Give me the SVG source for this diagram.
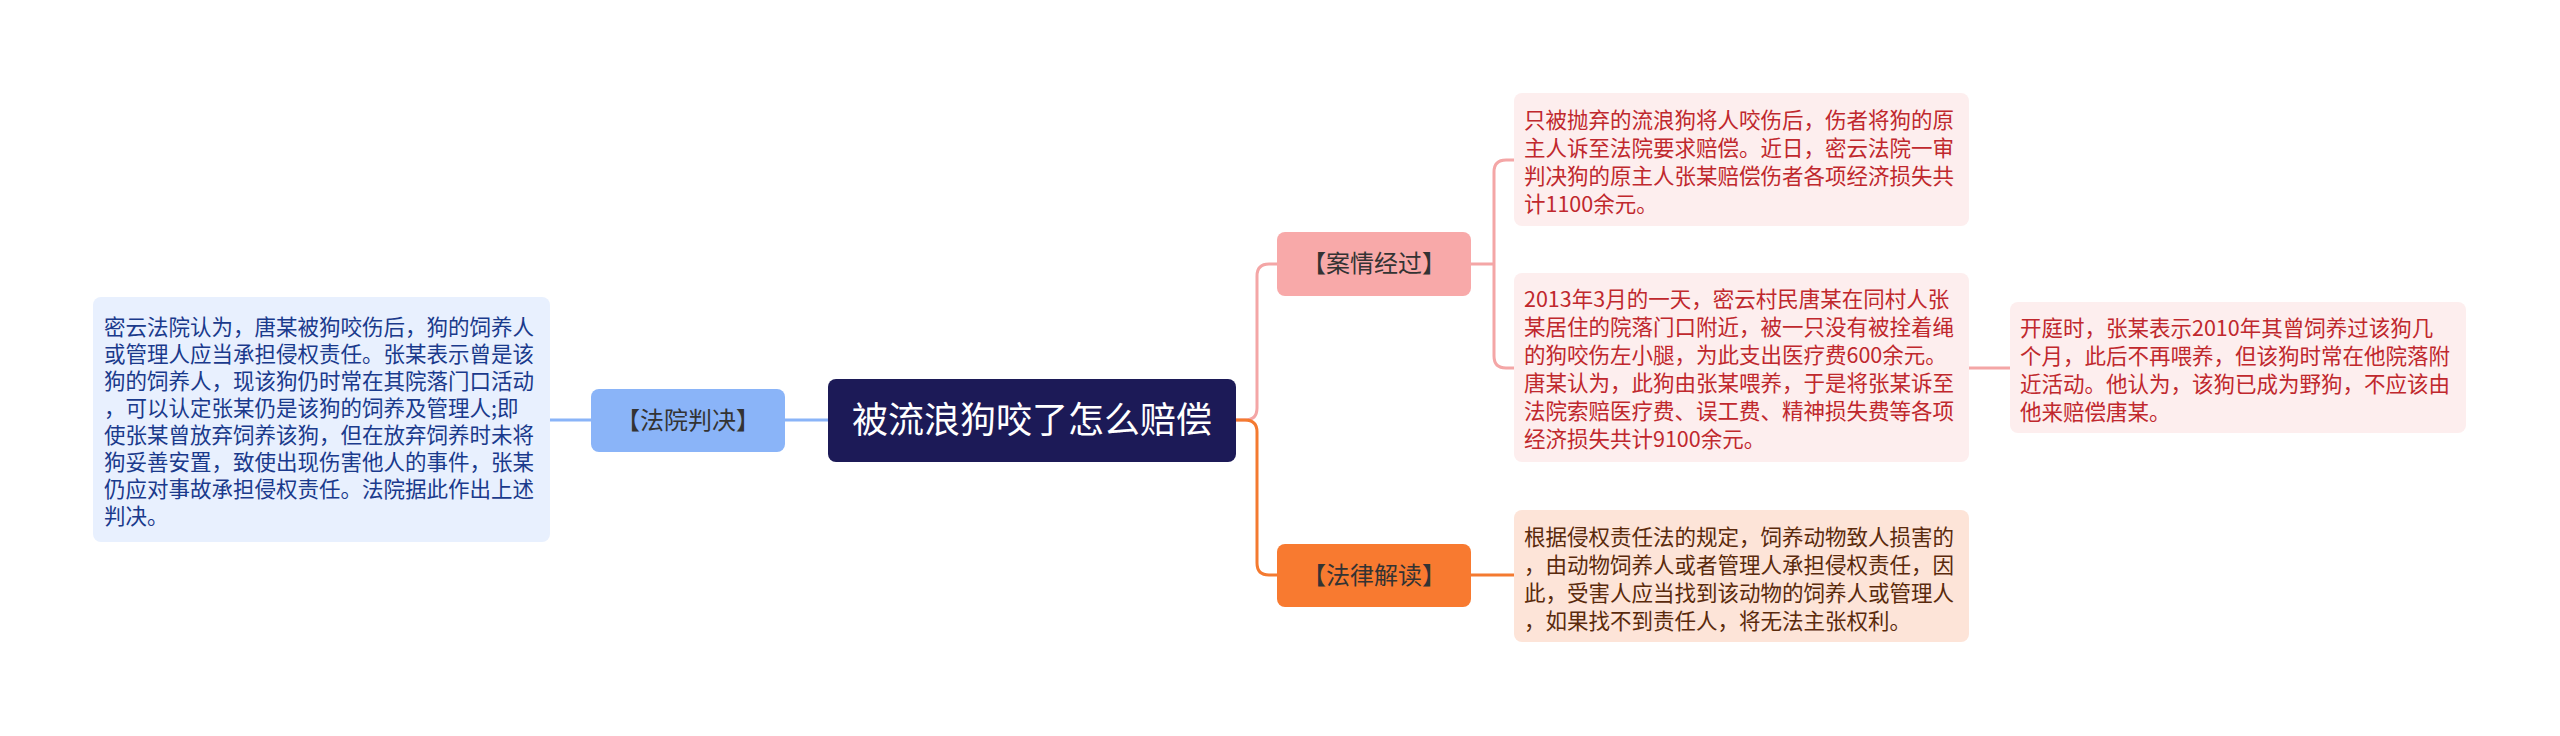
<svg xmlns="http://www.w3.org/2000/svg" width="2560" height="736" viewBox="0 0 2560 736">
<style>
text{font-family:"Noto Sans CJK SC","Noto Sans",sans-serif}
.leaf{font-size:21.5px}
.br{font-size:24px;fill:#333;text-anchor:middle}
.c path{fill:none;stroke-width:3}
</style>
<rect width="2560" height="736" fill="#fff"/>
<g class="c" id="connectors">
<path d="M1236 420 H1245 Q1257 420 1257 408 V276 Q1257 264 1269 264 H1277" stroke="#f4a6a6"/>
<path d="M1236 420 H1245 Q1257 420 1257 432 V563 Q1257 575 1269 575 H1277" stroke="#f47a30"/>
<path d="M1471 264 H1494 M1514 160 H1506 Q1494 160 1494 172 V356 Q1494 368 1506 368 H1514" stroke="#f4a6a6"/>
<path d="M1969 368 H2010" stroke="#f4a6a6"/>
<path d="M1471 575 H1514" stroke="#f47a30"/>
<path d="M828 420 H785 M591 420 H550" stroke="#8ab4f8"/>
</g>
<g id="root">
<rect x="828" y="379" width="408" height="83" rx="8" fill="#1c1a57"/>
<text x="1032" y="433" font-size="36" fill="#fff" text-anchor="middle">被流浪狗咬了怎么赔偿</text>
</g>
<g id="b-fayuan">
<rect x="591" y="389" width="194" height="63" rx="8" fill="#8ab4f8"/>
<text class="br" x="688" y="429">【法院判决】</text>
</g>
<g id="leaf-fayuan">
<rect x="93" y="297" width="457" height="245" rx="8" fill="#e8f0fe"/>
<text class="leaf" fill="#1a3a8c">
<tspan x="104" y="335">密云法院认为，唐某被狗咬伤后，狗的饲养人</tspan>
<tspan x="104" y="362">或管理人应当承担侵权责任。张某表示曾是该</tspan>
<tspan x="104" y="389">狗的饲养人，现该狗仍时常在其院落门口活动</tspan>
<tspan x="104" y="416">，可以认定张某仍是该狗的饲养及管理人;即</tspan>
<tspan x="104" y="443">使张某曾放弃饲养该狗，但在放弃饲养时未将</tspan>
<tspan x="104" y="470">狗妥善安置，致使出现伤害他人的事件，张某</tspan>
<tspan x="104" y="497">仍应对事故承担侵权责任。法院据此作出上述</tspan>
<tspan x="104" y="524">判决。</tspan>
</text>
</g>
<g id="b-anqing">
<rect x="1277" y="232" width="194" height="64" rx="8" fill="#f8a9a9"/>
<text class="br" x="1374" y="272">【案情经过】</text>
</g>
<g id="leaf-1">
<rect x="1514" y="93" width="455" height="133" rx="8" fill="#fdeeee"/>
<text class="leaf" fill="#c0282d">
<tspan x="1524" y="128">只被抛弃的流浪狗将人咬伤后，伤者将狗的原</tspan>
<tspan x="1524" y="156">主人诉至法院要求赔偿。近日，密云法院一审</tspan>
<tspan x="1524" y="184">判决狗的原主人张某赔偿伤者各项经济损失共</tspan>
<tspan x="1524" y="212">计1100余元。</tspan>
</text>
</g>
<g id="leaf-2">
<rect x="1514" y="273" width="455" height="189" rx="8" fill="#fdeeee"/>
<text class="leaf" fill="#c0282d">
<tspan x="1524" y="307">2013年3月的一天，密云村民唐某在同村人张</tspan>
<tspan x="1524" y="335">某居住的院落门口附近，被一只没有被拴着绳</tspan>
<tspan x="1524" y="363">的狗咬伤左小腿，为此支出医疗费600余元。</tspan>
<tspan x="1524" y="391">唐某认为，此狗由张某喂养，于是将张某诉至</tspan>
<tspan x="1524" y="419">法院索赔医疗费、误工费、精神损失费等各项</tspan>
<tspan x="1524" y="447">经济损失共计9100余元。</tspan>
</text>
</g>
<g id="leaf-3">
<rect x="2010" y="302" width="456" height="131" rx="8" fill="#fdeeee"/>
<text class="leaf" fill="#c0282d">
<tspan x="2020" y="336">开庭时，张某表示2010年其曾饲养过该狗几</tspan>
<tspan x="2020" y="364">个月，此后不再喂养，但该狗时常在他院落附</tspan>
<tspan x="2020" y="392">近活动。他认为，该狗已成为野狗，不应该由</tspan>
<tspan x="2020" y="420">他来赔偿唐某。</tspan>
</text>
</g>
<g id="b-falv">
<rect x="1277" y="544" width="194" height="63" rx="8" fill="#f87a30"/>
<text class="br" x="1374" y="584">【法律解读】</text>
</g>
<g id="leaf-4">
<rect x="1514" y="510" width="455" height="132" rx="8" fill="#fde4d8"/>
<text class="leaf" fill="#5a2a0c">
<tspan x="1524" y="545">根据侵权责任法的规定，饲养动物致人损害的</tspan>
<tspan x="1524" y="573">，由动物饲养人或者管理人承担侵权责任，因</tspan>
<tspan x="1524" y="601">此，受害人应当找到该动物的饲养人或管理人</tspan>
<tspan x="1524" y="629">，如果找不到责任人，将无法主张权利。</tspan>
</text>
</g>
</svg>
